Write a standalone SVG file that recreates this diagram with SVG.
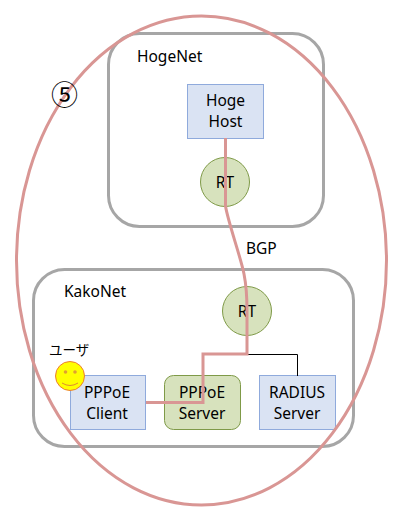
<svg xmlns="http://www.w3.org/2000/svg" width="403" height="522" viewBox="0 0 403 522">
<style>
text{font-family:"Noto Sans","Noto Sans CJK JP",sans-serif;font-size:15.5px;fill:#000}
.m{text-anchor:middle}
.net{fill:#fff;stroke:#a6a6a6;stroke-width:3}
.host{fill:#dae3f3;stroke:#8faadc;stroke-width:1}
.grn{fill:#d7e2bd;stroke:#7f9a48;stroke-width:1}
.pink{fill:none;stroke:#d99694;stroke-width:3}
</style>
<rect width="403" height="522" fill="#fff"/>
<g id="HogeNet"><rect class="net" x="108.5" y="33.5" width="215" height="193" rx="31"/><text x="137" y="62">HogeNet</text></g>
<g id="KakoNet"><rect class="net" x="33.5" y="269.5" width="320" height="177" rx="31"/><text x="64" y="297">KakoNet</text></g>
<g id="HogeHost"><rect class="host" x="187.5" y="84.5" width="76" height="54"/><text class="m" x="225.5" y="106">Hoge</text><text class="m" x="225.5" y="127">Host</text></g>
<g id="RT1"><circle class="grn" cx="225" cy="182" r="24.5"/><text class="m" x="225" y="188">RT</text></g>
<g id="RT2"><circle class="grn" cx="247" cy="311" r="24.5"/><text class="m" x="247" y="317">RT</text></g>
<g id="PPPoEClient"><rect class="host" x="70.5" y="375.5" width="75" height="54"/><text class="m" x="107" y="398">PPPoE</text><text class="m" x="107" y="419">Client</text></g>
<g id="PPPoEServer"><rect class="grn" x="164.5" y="375.5" width="76" height="54" rx="9"/><text class="m" x="202" y="398">PPPoE</text><text class="m" x="202" y="419">Server</text></g>
<g id="RADIUSServer"><rect class="host" x="259.5" y="375.5" width="76" height="54"/><text class="m" x="297" y="398">RADIUS</text><text class="m" x="297" y="419">Server</text></g>
<g id="connectors">
<path d="M247 354.5H297.5V376" fill="none" stroke="#000" stroke-width="1"/>
<path class="pink" d="M225.5 138V206C228 222 241 258 244 274C246 284 247 295 247 311V354H203V402.5H146"/>
</g>
<g id="User">
<text x="49" y="355" style="font-size:13.5px">ユーザ</text>
<circle cx="70" cy="376" r="14.5" fill="#ffff00" stroke="#ed7d31" stroke-width="1"/>
<circle cx="65.5" cy="372" r="1.8" fill="#e0a030"/><circle cx="75" cy="372" r="1.8" fill="#e0a030"/>
<path d="M62 383Q70 388 78 383" fill="none" stroke="#e08a30" stroke-width="1"/>
</g>
<g id="BGP"><text x="246" y="254">BGP</text></g>
<ellipse id="scope" class="pink" cx="201.5" cy="260.5" rx="185" ry="244.5"/>
<g id="mark"><text class="m" x="64.5" y="105" style="font-size:27px;font-family:'Noto Sans CJK JP',sans-serif">⑤</text></g>
</svg>
